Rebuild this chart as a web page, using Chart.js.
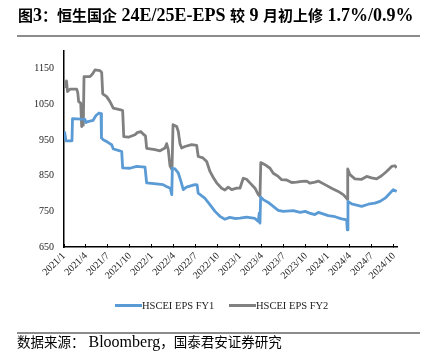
<!DOCTYPE html>
<html><head><meta charset="utf-8">
<script src="https://cdn.jsdelivr.net/npm/chart.js@4"></script>
<style>
html,body{margin:0;padding:0;background:#fff;}
#wrap{position:relative;width:432px;height:355px;overflow:hidden;}
#title{position:absolute;left:18px;top:4px;font-weight:bold;font-family:"Liberation Serif","Noto Sans CJK SC";white-space:nowrap;color:#000;line-height:22px;font-size:15px;}
#title .l{font-size:18px;}
.rule{position:absolute;left:17px;width:403px;height:2px;background:#8c8c8c;}
#src{position:absolute;left:17px;top:333px;font-family:"Liberation Serif","Noto Sans CJK SC";font-size:13.5px;white-space:nowrap;line-height:18px;color:#000;}
#src .l{font-size:16px;}
canvas{position:absolute;left:0;top:0}
.leg{position:absolute;top:298px;font:10.5px "Liberation Serif";display:flex;align-items:center;white-space:nowrap;color:#222;height:14px;}
.leg i{display:inline-block;width:27px;height:3px;}
</style></head>
<body><div id="wrap">
<canvas id="c" width="432" height="355"></canvas>
<div id="title">图<span class="l">3</span>：恒生国企<span class="l"> 24E/25E-EPS </span>较<span class="l"> 9 </span>月初上修<span class="l"> 1.7%/0.9%</span></div>
<div class="rule" style="top:35px"></div>
<div class="leg" style="left:115px"><i style="background:#5B9BD5"></i>HSCEI EPS FY1</div>
<div class="leg" style="left:229px"><i style="background:#808080"></i>HSCEI EPS FY2</div>
<div class="rule" style="top:332px"></div>
<div id="src">数据来源：<span class="l"> Bloomberg</span>，国泰君安证券研究</div>
</div>
<script>
// months since 2021/1 (x) and EPS values (y)
const fy1Month = [0.07,0.27,1.09,1.16,2.86,3.0,3.27,3.95,4.36,4.77,5.05,5.11,5.36,6.04,6.5,6.73,7.4,7.87,8.0,9.0,9.9,11.05,11.27,12.6,13.5,13.96,14.5,14.7,14.78,15.14,15.6,15.95,16.27,16.7,17.86,18.16,18.3,19.2,19.9,20.6,21.27,21.95,22.6,23.3,24.0,24.9,26.05,26.5,26.63,26.73,26.82,27.18,27.86,28.54,29.22,29.9,31.27,32.2,32.9,33.5,34.2,34.7,36.05,36.96,37.87,38.55,38.64,38.73,39.23,40.6,41.5,42.4,43.1,43.8,44.45,44.9,45.37];
const fy1Value = [974,948,948,1010,1008,999,1002,1005,1019,1026,1024,956,951,943,937,925,921,918,872,871,876,874,830,827,825,820,815,797,871,869,857,834,811,818,825,824,801,787,769,750,736,728,733,730,731,734,730,722,745,717,790,783,775,764,753,750,752,747,750,745,741,747,738,735,729,726,698,778,771,764,770,773,778,787,801,811,806];
const fy2Month = [0.07,0.2,0.34,0.48,0.82,1.73,1.87,2.0,2.28,2.41,2.55,2.63,2.73,3.55,3.91,4.23,4.91,5.14,5.28,5.82,6.27,6.72,7.73,8.0,8.15,8.77,9.68,10.0,10.46,10.9,11.11,11.28,12.41,13.1,13.77,14.0,14.22,14.46,14.73,14.87,15.37,15.59,15.82,16.05,16.5,17.41,18.1,18.31,18.95,19.46,19.91,20.36,20.82,21.5,21.95,22.4,22.87,23.55,24.0,24.45,24.9,25.36,26.05,26.5,26.73,26.84,27.41,28.1,28.54,29.22,29.68,30.37,31.05,31.73,32.41,33.1,33.55,34.23,34.68,35.6,36.5,37.4,38.09,38.55,38.63,38.7,39.0,39.68,40.6,41.28,41.96,42.64,43.32,44.0,44.69,45.14,45.37];
const fy2Value = [1114,1100,1116,1086,1093,1093,1084,1058,1054,988,1026,992,1128,1128,1136,1147,1145,1140,1080,1072,1058,1040,1035,1033,960,958,965,971,974,965,962,927,923,920,928,940,923,878,867,993,988,974,940,928,932,937,935,904,900,890,862,845,830,815,810,818,811,815,815,843,840,830,815,797,792,887,881,871,857,848,839,838,831,832,834,835,829,832,835,825,815,806,797,787,784,869,853,841,840,848,844,841,850,862,876,878,872];
const xTickMonths = [0,3,6,9,12,15,18,21,24,27,30,33,36,39,42,45];
const xTickLabels = ["2021/1","2021/4","2021/7","2021/10","2022/1","2022/4","2022/7","2022/10","2023/1","2023/4","2023/7","2023/10","2024/1","2024/4","2024/7","2024/10"];
const yTicks = [650,750,850,950,1050,1150];
const seriesNames = ["HSCEI EPS FY1","HSCEI EPS FY2"];

const toPts = (ms, vs) => ms.map((m, i) => ({x: m, y: vs[i]}));
const tickFont = {family: 'Liberation Serif', size: 10};

new Chart(document.getElementById('c'), {
  type: 'line',
  data: {datasets: [
    {label: seriesNames[0], data: toPts(fy1Month, fy1Value), borderColor: '#5B9BD5', borderWidth: 2.8},
    {label: seriesNames[1], data: toPts(fy2Month, fy2Value), borderColor: '#808080', borderWidth: 2.8}
  ]},
  options: {
    responsive: false, animation: false,
    layout: {padding: {left: 0, top: 51, right: 35, bottom: 0}},
    plugins: {legend: {display: false}, tooltip: {enabled: false}},
    elements: {point: {radius: 0}, line: {tension: 0, borderJoinStyle: 'round'}},
    scales: {
      x: {
        type: 'linear', min: 0, max: 45.42,
        afterBuildTicks: s => { s.ticks = xTickMonths.map(v => ({value: v})); },
        afterFit: s => { s.height = 108; },
        ticks: {autoSkip: false, minRotation: 45, maxRotation: 45, padding: 6, font: tickFont, color: '#222',
                callback: (v, i) => xTickLabels[i]},
        grid: {display: true, drawOnChartArea: false, drawTicks: true, tickLength: -3, color: '#000', lineWidth: 1},
        border: {display: true, color: '#000', width: 1.5}
      },
      y: {
        min: 650, max: 1200,
        afterBuildTicks: s => { s.ticks = yTicks.map(v => ({value: v})); },
        afterFit: s => { s.width = 64; },
        ticks: {padding: 10, font: tickFont, color: '#222', callback: v => String(v)},
        grid: {display: false, drawTicks: false},
        border: {display: true, color: '#000', width: 1.5}
      }
    }
  }
});
</script>
</body></html>
